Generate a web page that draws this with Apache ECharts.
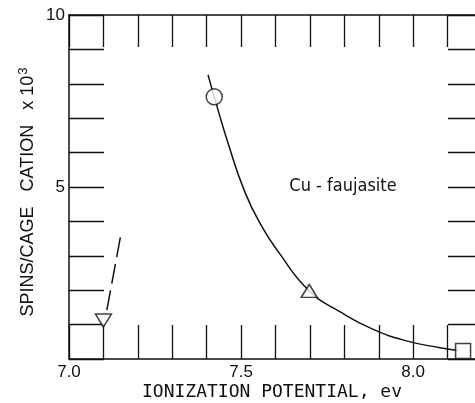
<!DOCTYPE html>
<html>
<head>
<meta charset="utf-8">
<script src="https://cdn.jsdelivr.net/npm/echarts@6/dist/echarts.min.js"></script>
<style>
html, body { margin: 0; padding: 0; background: #fff; }
#chart { width: 475px; height: 403px; }
</style>
</head>
<body>
<div id="chart"></div>
<script>
// tick labels that are printed
const xLabels = ['7.0', '7.5', '8.0'];
const yLabels = ['5', '10'];

// fitted curve through the Cu-faujasite points
const curveX = [7.404, 7.422, 7.462, 7.512, 7.561, 7.608, 7.698, 7.788, 7.884, 7.983, 8.078, 8.130];
const curveY = [8.26, 7.62, 6.28, 4.83, 3.84, 3.12, 1.98, 1.37, 0.86, 0.52, 0.33, 0.25];

// dashed extrapolation near the inverted triangle
const dashX = [7.11, 7.152];
const dashY = [1.42, 3.69];

// measured points
const circleX = [7.422], circleY = [7.62];
const triX = [7.698], triY = [1.98];
const squareX = [8.145], squareY = [0.23];
const invTriX = [7.10], invTriY = [1.12];

const zip = (xs, ys) => xs.map((x, i) => [x, ys[i]]);
const black = '#111';
const numFont = 'Liberation Sans';

const markerStyle = { color: '#fff', borderColor: black, borderWidth: 1.5 };

echarts.init(document.getElementById('chart'))
    .setOption({
        animation: false,
        grid: { left: 69, top: 15, right: -7, bottom: 44, outerBoundsMode: 'none', containLabel: false },
        xAxis: [{
            type: 'value',
            position: 'bottom',
            min: 7.0, max: 8.2, interval: 0.1,
            axisLine: { onZero: false, lineStyle: { color: black, width: 1.5 } },
            axisTick: { inside: true, length: 34, lineStyle: { color: black, width: 1.3 } },
            axisLabel: {
                color: black, fontFamily: numFont, fontSize: 17, margin: 5,
                formatter: v => {
                    const s = v.toFixed(1);
                    return xLabels.includes(s) ? s : '';
                }
            },
            splitLine: { show: false }
        }, {
            type: 'value',
            position: 'top',
            min: 7.0, max: 8.2, interval: 0.1,
            axisLine: { show: true, onZero: false, lineStyle: { color: black, width: 1.5 } },
            axisTick: { inside: true, length: 32, lineStyle: { color: black, width: 1.3 } },
            axisLabel: { show: false },
            splitLine: { show: false }
        }],
        yAxis: [{
            type: 'value',
            position: 'left',
            min: 0, max: 10, interval: 1,
            axisLine: { show: true, onZero: false, lineStyle: { color: black, width: 1.5 } },
            axisTick: { inside: true, length: 35, lineStyle: { color: black, width: 1.3 } },
            axisLabel: {
                color: black, fontFamily: numFont, fontSize: 17, margin: 4,
                formatter: v => {
                    const s = String(Math.round(v));
                    return yLabels.includes(s) && Math.abs(v - Math.round(v)) < 1e-6 ? s : '';
                }
            },
            splitLine: { show: false }
        }, {
            type: 'value',
            position: 'right',
            min: 0, max: 10, interval: 1,
            axisLine: { show: true, onZero: false, lineStyle: { color: black, width: 1.5 } },
            axisTick: { inside: true, length: 34, lineStyle: { color: black, width: 1.3 } },
            axisLabel: { show: false },
            splitLine: { show: false }
        }],
        graphic: [{
            type: 'text',
            x: 272, y: 392,
            style: {
                text: 'IONIZATION POTENTIAL, ev',
                font: '18px "DejaVu Sans Mono"',
                fill: black,
                align: 'center', verticalAlign: 'middle'
            }
        }, {
            type: 'text',
            x: 28, y: 192,
            rotation: Math.PI / 2,
            style: {
                text: '{a|SPINS/CAGE   CATION   x 10}{s|3}',
                rich: {
                    a: { fontFamily: 'Liberation Sans', fontSize: 18, fill: black, color: black },
                    s: { fontFamily: 'Liberation Sans', fontSize: 13, fill: black, color: black, verticalAlign: 'top', padding: [0, 0, 10, 1] }
                },
                align: 'center', verticalAlign: 'middle'
            }
        }, {
            type: 'text',
            x: 343, y: 186,
            style: {
                text: 'Cu - faujasite',
                font: '18px "DejaVu Sans Condensed"',
                fill: black,
                align: 'center', verticalAlign: 'middle'
            }
        }],
        series: [{
            type: 'line',
            data: zip(curveX, curveY),
            smooth: 0.5,
            symbol: 'none',
            lineStyle: { color: black, width: 1.5 },
            z: 2
        }, {
            type: 'line',
            data: zip(dashX, dashY),
            symbol: 'none',
            lineStyle: { color: black, width: 1.5, type: [20, 7] },
            z: 2
        }, {
            type: 'scatter',
            data: zip(circleX, circleY),
            symbol: 'circle', symbolSize: 16,
            itemStyle: markerStyle, z: 3
        }, {
            type: 'scatter',
            data: zip(triX, triY),
            symbol: 'triangle', symbolSize: [16, 13],
            itemStyle: markerStyle, z: 3
        }, {
            type: 'scatter',
            data: zip(squareX, squareY),
            symbol: 'rect', symbolSize: 15,
            itemStyle: markerStyle, z: 3
        }, {
            type: 'scatter',
            data: zip(invTriX, invTriY),
            symbol: 'triangle', symbolRotate: 180, symbolSize: [16, 13],
            itemStyle: markerStyle, z: 3
        }]
    });
</script>
</body>
</html>
